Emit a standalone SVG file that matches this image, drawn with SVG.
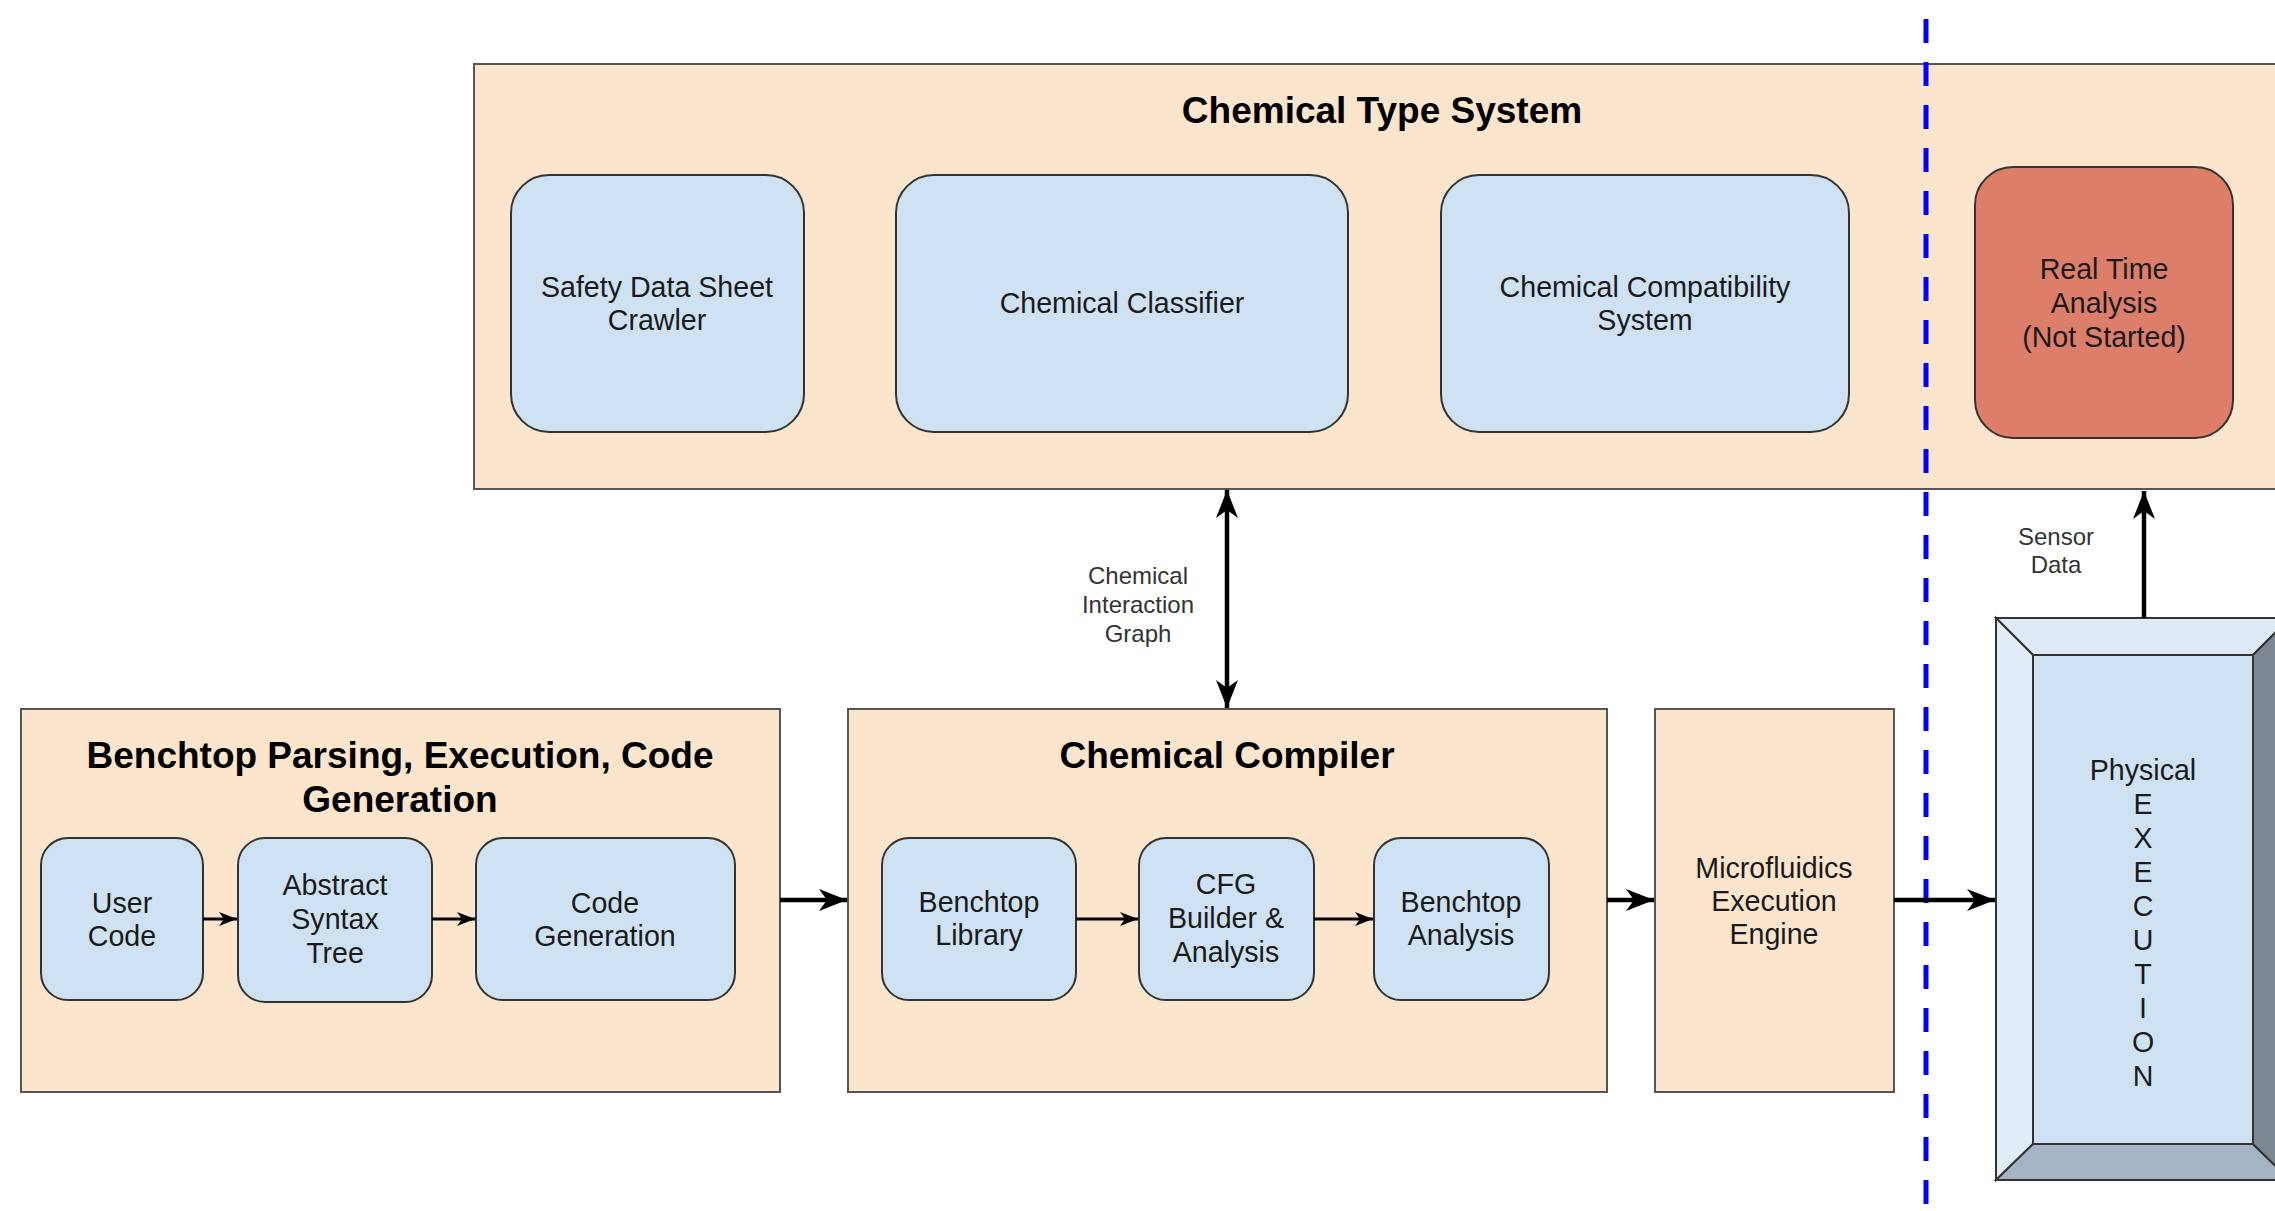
<svg xmlns="http://www.w3.org/2000/svg" width="2275" height="1211" viewBox="0 0 2275 1211">
<style>
  .grp { fill: #FCE5CD; stroke: #555; stroke-width: 2; }
  .blue { fill: #CFE2F3; stroke: #333; stroke-width: 2; }
  .red { fill: #DD7E6B; stroke: #333; stroke-width: 2; }
  .title { font-family: "Liberation Sans", Arial, sans-serif; font-weight: bold; font-size: 37px; fill: #000; text-anchor: middle; }
  .body { font-family: "Liberation Sans", Arial, sans-serif; font-size: 28.6px; fill: #1a1a1a; text-anchor: middle; }
  .lbl { font-family: "Liberation Sans", Arial, sans-serif; font-size: 24px; fill: #333; text-anchor: middle; }
  .big { stroke: #000; stroke-width: 4.5; fill: none; }
  .small { stroke: #000; stroke-width: 3; fill: none; }
  .bev { stroke: #333; stroke-width: 2; stroke-linejoin: miter; }
</style>
<defs>
  <marker id="bigArrow" markerUnits="userSpaceOnUse" markerWidth="40" markerHeight="30" refX="0" refY="0" viewBox="-30 -15 32 30" orient="auto-start-reverse">
    <path d="M0,0 L-28,-11 L-20,0 L-28,11 Z" fill="#000"/>
  </marker>
  <marker id="smallArrow" markerUnits="userSpaceOnUse" markerWidth="24" markerHeight="20" refX="0" refY="0" viewBox="-20 -10 22 20" orient="auto">
    <path d="M0,0 L-18,-7 L-13,0 L-18,7 Z" fill="#000"/>
  </marker>
</defs>
<rect width="2275" height="1211" fill="#fff"/>

<g id="chemical-type-system">
  <rect class="grp" x="474" y="64" width="1816" height="425"/>
  <text class="title" x="1382" y="123">Chemical Type System</text>
</g>
<g id="sds-crawler">
  <rect class="blue" x="511" y="175" width="293" height="257" rx="38" ry="38"/>
  <text class="body" x="657" y="297">Safety Data Sheet</text>
  <text class="body" x="657" y="330">Crawler</text>
</g>
<g id="chemical-classifier">
  <rect class="blue" x="896" y="175" width="452" height="257" rx="38" ry="38"/>
  <text class="body" x="1122" y="313">Chemical Classifier</text>
</g>
<g id="chemical-compatibility">
  <rect class="blue" x="1441" y="175" width="408" height="257" rx="38" ry="38"/>
  <text class="body" x="1645" y="297">Chemical Compatibility</text>
  <text class="body" x="1645" y="330">System</text>
</g>
<g id="real-time-analysis">
  <rect class="red" x="1975" y="167" width="258" height="271" rx="38" ry="38"/>
  <text class="body" x="2104" y="279">Real Time</text>
  <text class="body" x="2104" y="313">Analysis</text>
  <text class="body" x="2104" y="347">(Not Started)</text>
</g>

<g id="benchtop-parsing">
  <rect class="grp" x="21" y="709" width="759" height="383"/>
  <text class="title" x="400" y="768">Benchtop Parsing, Execution, Code</text>
  <text class="title" x="400" y="812">Generation</text>
</g>
<g id="user-code">
  <rect class="blue" x="41" y="838" width="162" height="162" rx="27" ry="27"/>
  <text class="body" x="122" y="913">User</text>
  <text class="body" x="122" y="946">Code</text>
</g>
<g id="ast">
  <rect class="blue" x="238" y="838" width="194" height="164" rx="27" ry="27"/>
  <text class="body" x="335" y="895">Abstract</text>
  <text class="body" x="335" y="929">Syntax</text>
  <text class="body" x="335" y="963">Tree</text>
</g>
<g id="code-generation">
  <rect class="blue" x="476" y="838" width="259" height="162" rx="27" ry="27"/>
  <text class="body" x="605" y="913">Code</text>
  <text class="body" x="605" y="946">Generation</text>
</g>

<g id="chemical-compiler">
  <rect class="grp" x="848" y="709" width="759" height="383"/>
  <text class="title" x="1227" y="768">Chemical Compiler</text>
</g>
<g id="benchtop-library">
  <rect class="blue" x="882" y="838" width="194" height="162" rx="27" ry="27"/>
  <text class="body" x="979" y="912">Benchtop</text>
  <text class="body" x="979" y="945">Library</text>
</g>
<g id="cfg-builder">
  <rect class="blue" x="1139" y="838" width="175" height="162" rx="27" ry="27"/>
  <text class="body" x="1226" y="894">CFG</text>
  <text class="body" x="1226" y="928">Builder &amp;</text>
  <text class="body" x="1226" y="962">Analysis</text>
</g>
<g id="benchtop-analysis">
  <rect class="blue" x="1374" y="838" width="175" height="162" rx="27" ry="27"/>
  <text class="body" x="1461" y="912">Benchtop</text>
  <text class="body" x="1461" y="945">Analysis</text>
</g>

<g id="microfluidics-engine">
  <rect class="grp" x="1655" y="709" width="239" height="383"/>
  <text class="body" x="1774" y="878">Microfluidics</text>
  <text class="body" x="1774" y="911">Execution</text>
  <text class="body" x="1774" y="944">Engine</text>
</g>

<g id="physical-execution">
  <polygon class="bev" fill="#DEEAF6" points="1996,618 2290,618 2253,655 2033,655"/>
  <polygon class="bev" fill="#E1ECF7" points="1996,618 2033,655 2033,1144 1996,1180"/>
  <polygon class="bev" fill="#A4B4C4" points="1996,1180 2033,1144 2253,1144 2290,1180"/>
  <polygon class="bev" fill="#7E8893" points="2253,655 2290,618 2290,1180 2253,1144"/>
  <rect class="bev" fill="#CFE2F3" x="2033" y="655" width="220" height="489"/>
  <text class="body" x="2143" y="780">Physical</text>
  <text class="body" x="2143" y="814">E</text>
  <text class="body" x="2143" y="848">X</text>
  <text class="body" x="2143" y="882">E</text>
  <text class="body" x="2143" y="916">C</text>
  <text class="body" x="2143" y="950">U</text>
  <text class="body" x="2143" y="984">T</text>
  <text class="body" x="2143" y="1018">I</text>
  <text class="body" x="2143" y="1052">O</text>
  <text class="body" x="2143" y="1086">N</text>
</g>

<g id="boundary">
  <line x1="1926" y1="19" x2="1926" y2="1205" stroke="#0000FF" stroke-width="5" stroke-dasharray="24 19"/>
</g>

<g id="connectors">
  <line class="small" x1="203" y1="919" x2="237" y2="919" marker-end="url(#smallArrow)"/>
  <line class="small" x1="432" y1="919" x2="475" y2="919" marker-end="url(#smallArrow)"/>
  <line class="small" x1="1076" y1="919" x2="1138" y2="919" marker-end="url(#smallArrow)"/>
  <line class="small" x1="1314" y1="919" x2="1373" y2="919" marker-end="url(#smallArrow)"/>
  <line class="big" x1="780" y1="900" x2="847" y2="900" marker-end="url(#bigArrow)"/>
  <line class="big" x1="1607" y1="900" x2="1654" y2="900" marker-end="url(#bigArrow)"/>
  <line class="big" x1="1894" y1="900" x2="1995" y2="900" marker-end="url(#bigArrow)"/>
  <line class="big" x1="1227" y1="490" x2="1227" y2="708" marker-start="url(#bigArrow)" marker-end="url(#bigArrow)"/>
  <line class="big" x1="2144" y1="618" x2="2144" y2="491" marker-end="url(#bigArrow)"/>
  <text class="lbl" x="1138" y="584">Chemical</text>
  <text class="lbl" x="1138" y="613">Interaction</text>
  <text class="lbl" x="1138" y="642">Graph</text>
  <text class="lbl" x="2056" y="545">Sensor</text>
  <text class="lbl" x="2056" y="573">Data</text>
</g>
</svg>
